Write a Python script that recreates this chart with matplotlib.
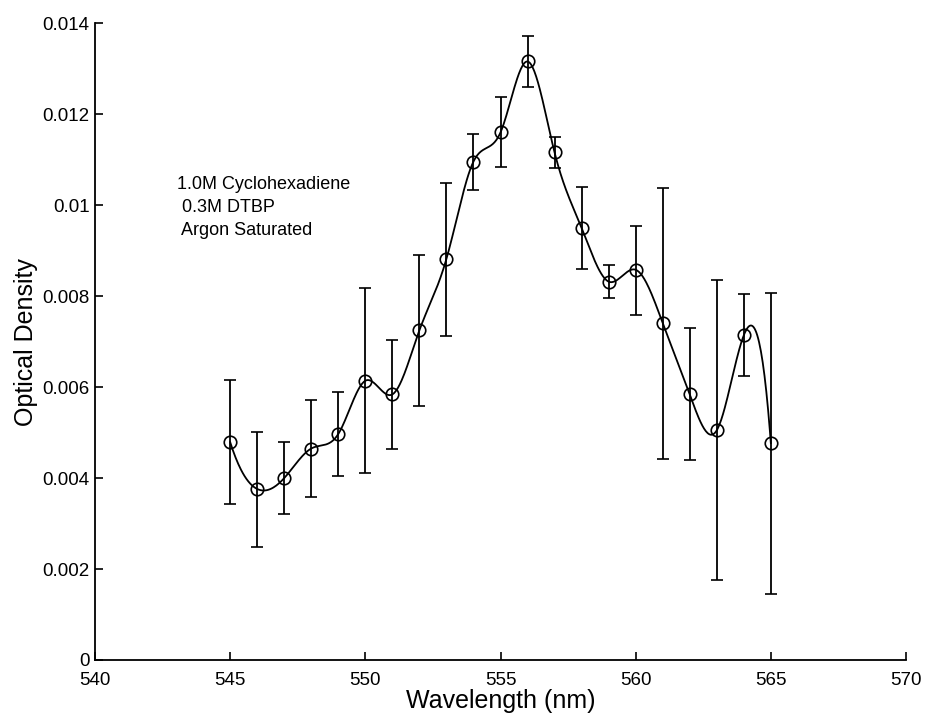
"""
Transient absorption spectrum: 1.0M cyclohexadiene / 0.3M DTBP, argon saturated.
"""
import numpy as np
import matplotlib
matplotlib.use("Agg")
import matplotlib.pyplot as plt

plt.rcParams["font.family"] = ["Liberation Sans", "DejaVu Sans"]

# data
wavelength = [545, 546, 547, 548, 549, 550, 551, 552, 553, 554, 555,
              556, 557, 558, 559, 560, 561, 562, 563, 564, 565]
od = [0.00479, 0.00376, 0.00400, 0.00465, 0.00497, 0.00614, 0.00584,
      0.00725, 0.00882, 0.01096, 0.01160, 0.01316, 0.01116, 0.00950,
      0.00832, 0.00858, 0.00741, 0.00584, 0.00505, 0.00714, 0.00477]
od_low = [0.00343, 0.00248, 0.00322, 0.00359, 0.00405, 0.00412, 0.00464,
          0.00559, 0.00713, 0.01034, 0.01083, 0.01261, 0.01082, 0.00859,
          0.00796, 0.00758, 0.00443, 0.00439, 0.00175, 0.00624, 0.00146]
od_high = [0.00615, 0.00502, 0.00479, 0.00572, 0.00589, 0.00817, 0.00704,
           0.00891, 0.01049, 0.01157, 0.01239, 0.01371, 0.01151, 0.01041,
           0.00868, 0.00954, 0.01037, 0.00729, 0.00836, 0.00805, 0.00808]

xticks = [540, 545, 550, 555, 560, 565, 570]
yticks = [0, 0.002, 0.004, 0.006, 0.008, 0.01, 0.012, 0.014]
ytick_labels = ["0", "0.002", "0.004", "0.006", "0.008", "0.01", "0.012", "0.014"]
notes = ["1.0M Cyclohexadiene", " 0.3M DTBP", " Argon Saturated"]


def spline_notaknot(x, y, xs):
    # cubic spline with not-a-knot ends (same as MATLAB's spline)
    x = np.asarray(x, float)
    y = np.asarray(y, float)
    n = len(x)
    h = np.diff(x)
    A = np.zeros((n, n))
    b = np.zeros(n)
    A[0, 0], A[0, 1], A[0, 2] = h[1], -(h[0] + h[1]), h[0]
    A[-1, -3], A[-1, -2], A[-1, -1] = h[-1], -(h[-2] + h[-1]), h[-2]
    for i in range(1, n - 1):
        A[i, i - 1] = h[i - 1]
        A[i, i] = 2 * (h[i - 1] + h[i])
        A[i, i + 1] = h[i]
        b[i] = 6 * ((y[i + 1] - y[i]) / h[i] - (y[i] - y[i - 1]) / h[i - 1])
    M = np.linalg.solve(A, b)
    idx = np.clip(np.searchsorted(x, xs) - 1, 0, n - 2)
    x0, x1 = x[idx], x[idx + 1]
    hh = x1 - x0
    return (M[idx] * (x1 - xs) ** 3 / (6 * hh)
            + M[idx + 1] * (xs - x0) ** 3 / (6 * hh)
            + (y[idx] / hh - M[idx] * hh / 6) * (x1 - xs)
            + (y[idx + 1] / hh - M[idx + 1] * hh / 6) * (xs - x0))


def main():
    wl = np.array(wavelength)
    y = np.array(od)
    yerr = [y - np.array(od_low), np.array(od_high) - y]

    fig = plt.figure(figsize=(9.26, 7.19), dpi=100)
    ax = fig.add_axes([0.1026, 0.0821, 0.8758, 0.8855])

    xs = np.linspace(wl[0], wl[-1], 600)
    ax.plot(xs, spline_notaknot(wl, y, xs), color="black", lw=1.3)
    ax.errorbar(wl, y, yerr=yerr, fmt="o", mfc="none", mec="black",
                ms=9, mew=1.2, ecolor="black", elinewidth=1.3,
                capsize=4, capthick=1.3)

    ax.set_xlim(540, 570)
    ax.set_ylim(0, 0.014)
    ax.set_xticks(xticks)
    ax.set_yticks(yticks)
    ax.set_yticklabels(ytick_labels)
    ax.tick_params(direction="in", length=6, width=1.2, labelsize=13.5,
                   colors="black", pad=4)
    ax.tick_params(axis="x", pad=9)
    for s in ["top", "right"]:
        ax.spines[s].set_visible(False)
    for s in ["left", "bottom"]:
        ax.spines[s].set_linewidth(1.3)

    ax.set_xlabel("Wavelength (nm)", fontsize=18, labelpad=0)
    ax.set_ylabel("Optical Density", fontsize=18, labelpad=3)

    for k, line in enumerate(notes):
        ax.text(543.03, 0.01045 - k * 0.0005, line, fontsize=13,
                ha="left", va="center")

    fig.savefig("out.png", dpi=100)
    plt.close(fig)


if __name__ == "__main__":
    main()
